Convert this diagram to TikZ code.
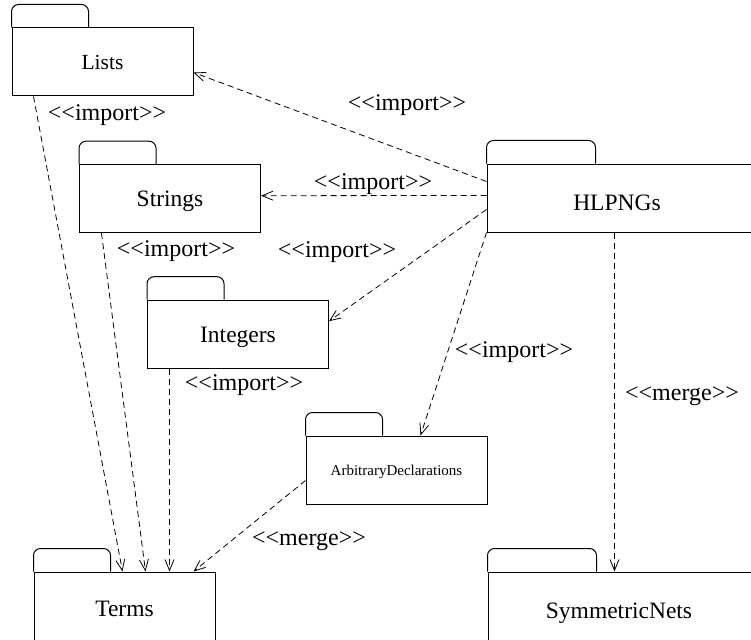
\documentclass[tikz,border=0pt]{standalone}
\usepackage{fontspec}
\setmainfont{Liberation Serif}
% same face without the TeX ligature mapping, so that << stays as typed
\newfontfamily\stereofont{Liberation Serif}
\usetikzlibrary{arrows.meta,calc}

% tab on top of a package box: #1 = body node, #2 = tab width
\newcommand\pkgtab[2]{%
  \draw[pkgline, rounded corners=7pt] (#1.north west) -- ++(0,-23) -- ++(#2,0) -- ++(0,23);}

\begin{document}
\begin{tikzpicture}[x=1pt,y=-1pt,
  pkgline/.style={line width=1pt, line join=miter},
  pkg/.style={draw, pkgline, rectangle, inner sep=0pt,
    minimum width=181pt, minimum height=68pt,
    font=\fontsize{23.5}{28}\selectfont, text height=15.6pt, text depth=0pt},
  widepkg/.style={pkg, minimum width=300pt},
  pkgname/.style={anchor=base, inner sep=0pt, font=\fontsize{23.5}{28}\selectfont},
  dep/.style={draw, line width=0.8pt, dash pattern=on 6pt off 4pt,
    -{Straight Barb[length=11pt,width=9pt,line width=0.8pt]}},
  stereo/.style={anchor=base, inner sep=0pt, font=\stereofont\fontsize{24}{28}\selectfont}]

\useasboundingbox (0,0) rectangle (751,639);
\fill[white] (0,0) rectangle (751,639);
\clip (0,0) rectangle (751,639);

% package bodies
\node[pkg, font=\fontsize{21.5}{26}\selectfont, text height=14.2pt] (lists) at (102.5,62) {Lists};
\node[pkg] (strings) at (170,198.7) {Strings};
\node[pkg] (integers) at (238,334.2) {Integers};
\node[pkg, font=\fontsize{15}{18}\selectfont, text height=10pt] (arb) at (396.5,470) {ArbitraryDeclarations};
\node[pkg, minimum height=74pt] (terms) at (124.5,609) {Terms};
\node[widepkg] (hlpngs) at (637,198) {};
\node[widepkg, minimum height=90pt] (symnets) at (638,617) {};
\node[pkgname] (hlpngsname) at (617,210) {HLPNGs};
\node[pkgname] (symnetsname) at (619,618) {SymmetricNets};

% package tabs
\pkgtab{lists}{77}
\pkgtab{strings}{77}
\pkgtab{integers}{77}
\pkgtab{arb}{77}
\pkgtab{terms}{77}
\pkgtab{hlpngs}{109}
\pkgtab{symnets}{109}

% dependencies from HLPNGs
\draw[dep] ($(hlpngs.north west)+(0,18)$) -- ($(lists.north east)+(0,45)$);
\draw[dep] ($(hlpngs.north west)+(0,32)$) -- ($(strings.north east)+(0,31.5)$);
\draw[dep] ($(hlpngs.north west)+(0,46)$) -- ($(integers.north east)+(0,21.5)$);
\draw[dep] (hlpngs.south west) -- ($(arb.north west)+(115,0)$);
\draw[dep] ($(hlpngs.south west)+(128,0)$) -- ($(symnets.north west)+(127,0)$);

% dependencies into Terms
\draw[dep] ($(lists.south west)+(22,0)$) -- ($(terms.north west)+(89,0)$);
\draw[dep] ($(strings.south west)+(22.5,0)$) -- ($(terms.north west)+(112,0)$);
\draw[dep] ($(integers.south west)+(22.5,0)$) -- ($(terms.north west)+(136,0)$);
\draw[dep] ($(arb.north west)+(0,45)$) -- ($(terms.north west)+(160,0)$);

% stereotype labels
\node[stereo] (l1) at (107,121) {<<import>>};
\node[stereo] (l2) at (407,111) {<<import>>};
\node[stereo] (l3) at (373,189) {<<import>>};
\node[stereo] (l4) at (176,256) {<<import>>};
\node[stereo] (l5) at (337,257) {<<import>>};
\node[stereo] (l6) at (514,357) {<<import>>};
\node[stereo] (l7) at (244,390) {<<import>>};
\node[stereo] (l8) at (682,400) {<<merge>>};
\node[stereo] (l9) at (309,545) {<<merge>>};
\end{tikzpicture}
\end{document}
